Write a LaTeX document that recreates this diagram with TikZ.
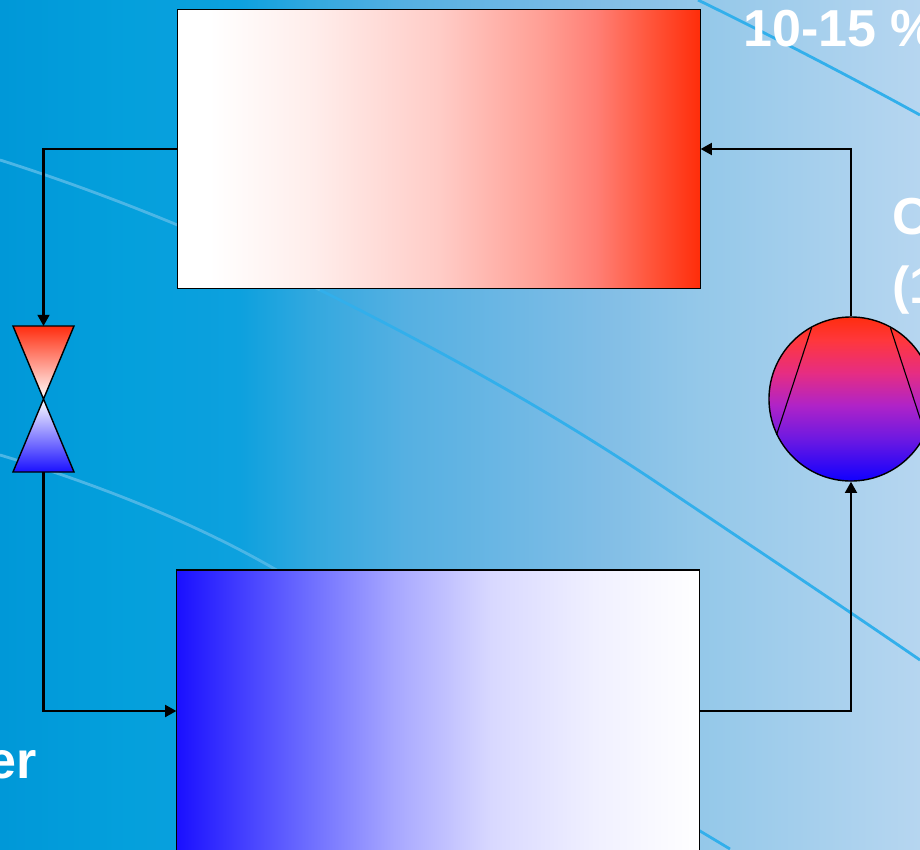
\documentclass[tikz,border=0pt]{standalone}
\usepackage{fontspec}
\setmainfont{Liberation Sans}
\usetikzlibrary{arrows.meta, positioning, calc}
\definecolor{pale}{RGB}{75,182,230}
\definecolor{swoosh}{RGB}{50,175,235}
\definecolor{hotred}{RGB}{255,45,15}
\definecolor{coldblue}{RGB}{26,16,255}
\pgfdeclarehorizontalshading{bgshade}{100bp}{
  rgb(0bp)=(0,.596,.847); rgb(25bp)=(0,.596,.847); rgb(32bp)=(.016,.627,.863); rgb(38bp)=(.05,.63,.87);
  rgb(42bp)=(.2,.66,.875); rgb(47bp)=(.333,.69,.886); rgb(58bp)=(.51,.745,.902); rgb(63bp)=(.58,.784,.914);
  rgb(75bp)=(.714,.839,.941); rgb(100bp)=(.714,.839,.941)}
\pgfdeclarehorizontalshading{hotshade}{100bp}{
  rgb(0bp)=(1,1,1); rgb(28bp)=(1,1,1); rgb(38bp)=(1,.93,.92); rgb(50bp)=(1,.8,.78);
  rgb(60bp)=(1,.62,.58); rgb(65bp)=(1,.5,.46); rgb(70bp)=(1,.34,.24); rgb(75bp)=(1,.176,.039); rgb(100bp)=(1,.176,.039)}
\pgfdeclarehorizontalshading{coldshade}{100bp}{
  rgb(0bp)=(.102,.063,1); rgb(25bp)=(.102,.063,1); rgb(37bp)=(.412,.412,1); rgb(46bp)=(.659,.659,1);
  rgb(55bp)=(.847,.847,1); rgb(65bp)=(.941,.941,1); rgb(75bp)=(1,1,1); rgb(100bp)=(1,1,1)}
\pgfdeclareverticalshading{compshade}{100bp}{
  rgb(0bp)=(.063,0,1); rgb(25bp)=(.063,0,1); rgb(38bp)=(.431,.098,.882); rgb(48bp)=(.686,.137,.784);
  rgb(58bp)=(.902,.176,.51); rgb(68bp)=(1,.216,.235); rgb(75bp)=(1,.176,.059); rgb(100bp)=(1,.176,.059)}
\tikzset{
  exchanger/.style={draw=black, line width=0.8pt, minimum width=13.05cm, inner sep=0pt},
  pipe/.style={draw=black, line width=1.5pt},
  swooshline/.style={swoosh, line width=2pt},
  paleline/.style={pale, line width=2pt},
  heading/.style={text=white, font=\bfseries\fontsize{37}{37}\selectfont, inner sep=0pt}
}
\begin{document}
\begin{tikzpicture}[x=0.025cm, y=-0.025cm, >={Triangle[length=8pt, width=8.5pt]}]
  \useasboundingbox (0,0) rectangle (920,849);
  \clip (0,0) rectangle (920,849);
  \shade[shading=bgshade] (0,0) rectangle (920,849);

  % swooshes behind the plant
  \draw[swooshline] (698,0) .. controls (780,40) and (860,82) .. (920,115);
  \draw[paleline] (0,160) .. controls (110,195) and (220,240) .. (320,290);
  \draw[swooshline] (320,290) .. controls (470,365) and (570,425) .. (650,478) .. controls (750,545) and (840,605) .. (920,660);
  \draw[paleline] (0,455) .. controls (100,485) and (200,525) .. (280,572);
  \draw[swooshline] (695,828) -- (730,849);

  % texts
  \node[heading, anchor=base west] (share) at (743,46) {10-15 \%};
  \node[heading, anchor=base west] (linea) at (892,234) {C};
  \node[heading, anchor=base west] (lineb) at (892,303) {(1};
  \node[heading, anchor=base east] (linec) at (37,778) {er};

  % plant
  \node[exchanger, minimum height=6.97cm, shading=hotshade] (cond) at (439,149) {};
  \node[exchanger, minimum height=7.05cm, shading=coldshade] (evap) at (438,711) {};
  \node[draw=black, line width=1pt, circle, minimum size=4.1cm, inner sep=0pt, shading=compshade] (comp) at (851,399) {};
  \draw[line width=0.8pt] (811.5,328) -- (776.5,435);
  \draw[line width=0.8pt] (890.5,328) -- (925.5,435);

  \coordinate (valvein) at (43.5,326);
  \coordinate (valvemid) at (43.5,399);
  \coordinate (valveout) at (43.5,472);
  \draw[line width=1pt, top color=hotred, bottom color=white] (13,326) -- (74,326) -- (valvemid) -- cycle;
  \draw[line width=1pt, top color=white, bottom color=coldblue] (valvemid) -- (74,472) -- (13,472) -- cycle;

  % circuit
  \draw[pipe, ->] (cond.west) -| (valvein);
  \draw[pipe, ->] (valveout) |- (evap.west);
  \draw[pipe, ->] (evap.east) -| (comp.south);
  \draw[pipe, ->] (comp.north) |- (cond.east);
\end{tikzpicture}
\end{document}
